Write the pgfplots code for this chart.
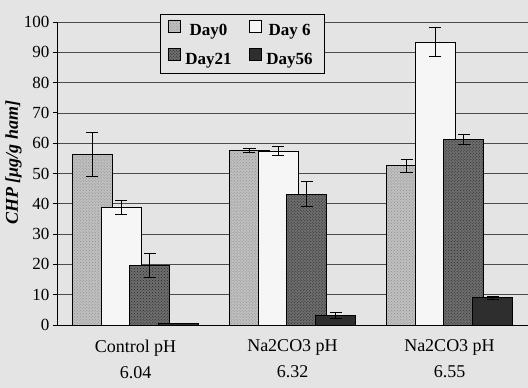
\documentclass[border=0pt]{standalone}
\usepackage{fontspec}
\setmainfont{Liberation Serif}
\usepackage{pgfplots}
\pgfplotsset{compat=1.18}
\usetikzlibrary{patterns,calc}
\definecolor{bgc}{HTML}{E4E4E4}
\definecolor{cday0}{HTML}{C0C0C0}
\definecolor{cday6}{HTML}{F6F6F6}
\definecolor{cday21}{HTML}{6E6E6E}
\definecolor{cday56}{HTML}{2E2E2E}
\begin{document}
\begin{tikzpicture}
\fill[bgc] (-57bp,-63bp) rectangle (471bp,325bp);
\useasboundingbox (-57bp,-63bp) rectangle (471bp,325bp);
\begin{axis}[
  name=ax, at={(0,0)}, anchor=south west,
  scale only axis, width=471bp, height=303bp,
  xmin=-0.5, xmax=2.5, ymin=0, ymax=100,
  axis x line*=bottom, axis y line*=left,
  axis line style={black, line width=0.9pt},
  ytick={0,10,...,100},
  ymajorgrids, grid style={black!70, line width=0.8pt},
  tick align=outside, major tick length=4bp,
  tick style={black, line width=0.9pt},
  /pgf/number format/assume math mode=true,
  yticklabel style={font=\fontsize{17bp}{20bp}\selectfont},
  xtick={0,1,2},
  xticklabels={{Control pH\\6.04},{Na2CO3 pH\\6.32},{Na2CO3 pH\\6.55}},
  xticklabel style={align=center, font=\fontsize{18bp}{26bp}\selectfont, yshift=-7bp},
  x tick style={draw=none},
  extra x ticks={0.5,1.5}, extra x tick labels={},
  extra x tick style={tick style={draw=black, line width=0.9pt}, major tick length=7bp, grid=none},
  ylabel={\bfseries\itshape CHP [μg/g ham]},
  y label style={at={(axis description cs:-0.092,0.535)}, anchor=center, font=\fontsize{18bp}{20bp}\selectfont},
  legend columns=2,
  legend style={at={(0.219,1.026)}, anchor=north west, fill=bgc, draw=black, line width=0.8pt,
    font=\bfseries\fontsize{17bp}{20bp}\selectfont, row sep=9bp, inner xsep=7bp, inner ysep=5bp,
    /tikz/every even column/.append style={column sep=12bp},
    nodes={inner xsep=5bp}},
  legend image code/.code={\draw[#1, line width=0.8pt] (0bp,-1bp) rectangle (12bp,11bp);},
  error bars/y dir=both, error bars/y explicit,
  error bars/error bar style={black, line width=0.9pt},
  error bars/error mark options={black, rotate=90, mark size=6bp, line width=0.9pt},
]
\addplot[ybar, bar width=40bp, draw=black, line width=0.9pt, fill=cday0,
  postaction={pattern=crosshatch dots, pattern color=black!45}]
  coordinates {(-0.2739,56.3) +- (0,7.3) (0.7261,57.5) +- (0,0.7) (1.7261,52.5) +- (0,2.2)};
\addlegendentry{Day0}
\addplot[ybar, bar width=40bp, draw=black, line width=0.9pt, fill=cday6]
  coordinates {(-0.0911,38.8) +- (0,2.3) (0.9089,57.4) +- (0,1.6) (1.9089,93.4) +- (0,4.8)};
\addlegendentry{Day 6}
\addplot[ybar, bar width=40bp, draw=black, line width=0.9pt, fill=cday21,
  postaction={pattern=crosshatch dots, pattern color=black!85}]
  coordinates {(0.0911,19.6) +- (0,4.0) (1.0911,43.2) +- (0,4.2) (2.0911,61.2) +- (0,1.7)};
\addlegendentry{Day21}
\addplot[ybar, bar width=40bp, draw=black, line width=0.9pt, fill=cday56]
  coordinates {(0.2739,0.5) +- (0,0) (1.2739,3.2) +- (0,0.9) (2.2739,9.0) +- (0,0.5)};
\addlegendentry{Day56}
\end{axis}
\end{tikzpicture}
\end{document}
